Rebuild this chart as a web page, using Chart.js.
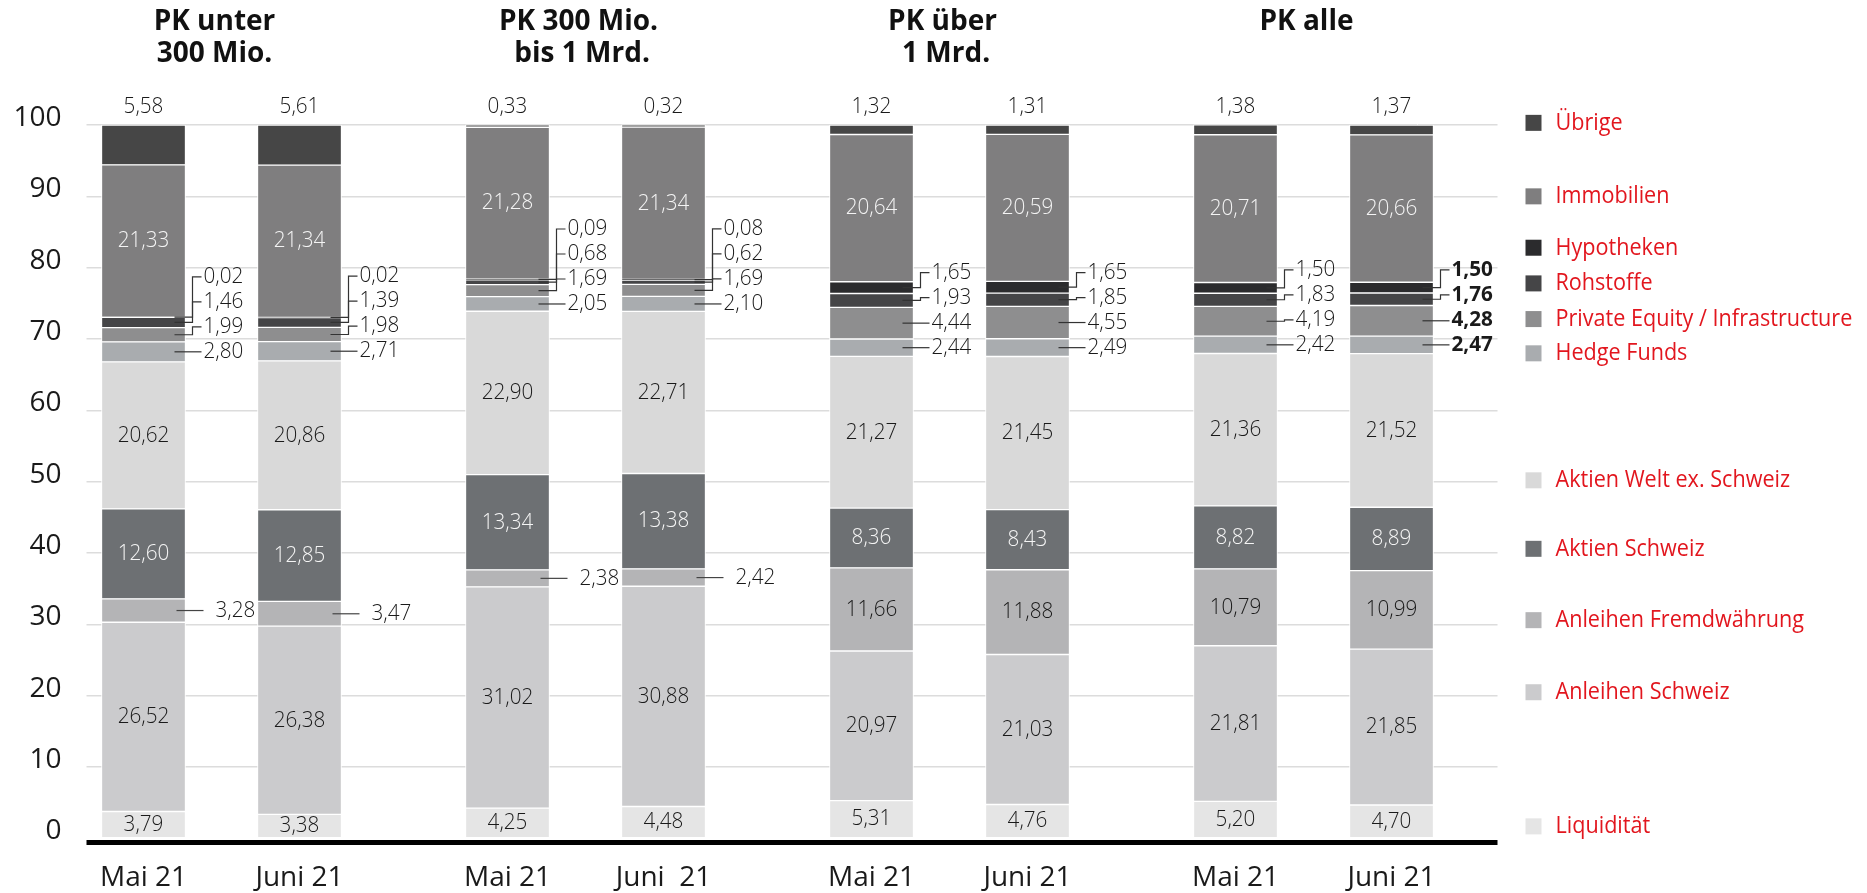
<!DOCTYPE html>
<html>
<head>
<meta charset="utf-8">
<script src="https://cdn.jsdelivr.net/npm/chart.js@4.4.0/dist/chart.umd.min.js"></script>
<style>
  html, body { margin: 0; padding: 0; background: #fff; }
  #wrap { width: 1867px; height: 893px; position: relative; }
</style>
</head>
<body>
<div id="wrap"><canvas id="chart"></canvas></div>
<script>
// Gruppen und Monate
const gruppen = ['PK unter\n300 Mio.', 'PK 300 Mio.\n bis 1 Mrd.', 'PK über\n 1 Mrd.', 'PK alle'];
const monate = [['Mai 21', 'Juni 21'], ['Mai 21', 'Juni  21'], ['Mai 21', 'Juni 21'], ['Mai 21', 'Juni 21']];

// Anteile in %, je Balken (Mai/Juni pro Gruppe)
const liquiditaet     = [3.79, 3.38, 4.25, 4.48, 5.31, 4.76, 5.20, 4.70];
const anleihenSchweiz = [26.52, 26.38, 31.02, 30.88, 20.97, 21.03, 21.81, 21.85];
const anleihenFW      = [3.28, 3.47, 2.38, 2.42, 11.66, 11.88, 10.79, 10.99];
const aktienSchweiz   = [12.60, 12.85, 13.34, 13.38, 8.36, 8.43, 8.82, 8.89];
const aktienWelt      = [20.62, 20.86, 22.90, 22.71, 21.27, 21.45, 21.36, 21.52];
const hedgeFunds      = [2.80, 2.71, 2.05, 2.10, 2.44, 2.49, 2.42, 2.47];
const privateEquity   = [1.99, 1.98, 1.69, 1.69, 4.44, 4.55, 4.19, 4.28];
const rohstoffe       = [1.46, 1.39, 0.68, 0.62, 1.93, 1.85, 1.83, 1.76];
const hypotheken      = [0.02, 0.02, 0.09, 0.08, 1.65, 1.65, 1.50, 1.50];
const immobilien      = [21.33, 21.34, 21.28, 21.34, 20.64, 20.59, 20.71, 20.66];
const uebrige         = [5.58, 5.61, 0.33, 0.32, 1.32, 1.31, 1.38, 1.37];

const yTicks = [0, 10, 20, 30, 40, 50, 60, 70, 80, 90, 100];

// Serien von unten nach oben; mode: wie das Label gesetzt wird
const serien = [
  { name: 'Liquidität', values: liquiditaet, color: '#e5e5e5', mode: 'inside', legendAt: 1.7 },
  { name: 'Anleihen Schweiz', values: anleihenSchweiz, color: '#cbcbcd', mode: 'inside', legendAt: 20.5 },
  { name: 'Anleihen Fremdwährung', values: anleihenFW, color: '#b4b4b6', mode: 'auto', legendAt: 30.6 },
  { name: 'Aktien Schweiz', values: aktienSchweiz, color: '#6d7073', mode: 'inside', white: true, legendAt: 40.6 },
  { name: 'Aktien Welt ex. Schweiz', values: aktienWelt, color: '#d9d9d9', mode: 'inside', legendAt: 50.2 },
  { name: 'Hedge Funds', values: hedgeFunds, color: '#a9acaf', mode: 'callout', legendAt: 68 },
  { name: 'Private Equity / Infrastructure', values: privateEquity, color: '#8e8e8f', mode: 'callout', legendAt: 72.8 },
  { name: 'Rohstoffe', values: rohstoffe, color: '#454547', mode: 'callout', legendAt: 77.8 },
  { name: 'Hypotheken', values: hypotheken, color: '#2b2b2d', mode: 'callout', legendAt: 82.8 },
  { name: 'Immobilien', values: immobilien, color: '#7f7e7f', mode: 'inside', white: true, legendAt: 90 },
  { name: 'Übrige', values: uebrige, color: '#464646', mode: 'top', legendAt: 100.3 }
];

// Kategorien mit Leerplätzen zwischen den Balken
const labels = [];
const slotIndex = [];
gruppen.forEach((g, gi) => {
  if (gi > 0) labels.push('', '', '');
  slotIndex.push(labels.length); labels.push(monate[gi][0]);
  labels.push('', '');
  slotIndex.push(labels.length); labels.push(monate[gi][1]);
});
const toSlots = (values) => {
  const arr = labels.map(() => null);
  values.forEach((v, i) => { arr[slotIndex[i]] = v; });
  return arr;
};

const fmt = (v) => v.toFixed(2).replace('.', ',');
const FONT = '"Open Sans", "Noto Sans", sans-serif';
const RED = '#e2161e';
const GRID = '#dcdcdc';
const VAL = { size: 22, squeeze: 0.94 };

function text(ctx, str, x, y, opt) {
  ctx.save();
  ctx.font = (opt.weight || '400') + ' ' + opt.size + 'px ' + FONT;
  ctx.fillStyle = opt.color || '#1a1a1a';
  ctx.textBaseline = 'middle';
  ctx.textAlign = opt.align || 'center';
  ctx.translate(x, y);
  ctx.scale(opt.squeeze || 1, 1);
  ctx.fillText(str, 0, 0);
  ctx.restore();
}

const dekor = {
  id: 'dekor',
  afterDatasetsDraw(chart) {
    const ctx = chart.ctx;
    const ys = chart.scales.y;
    const area = chart.chartArea;
    const last = liquiditaet.length - 1;

    // schwarze Grundlinie
    ctx.save();
    ctx.strokeStyle = '#000';
    ctx.lineWidth = 5;
    ctx.beginPath();
    ctx.moveTo(area.left - 31, ys.getPixelForValue(0) + 4);
    ctx.lineTo(area.right + 80, ys.getPixelForValue(0) + 4);
    ctx.stroke();
    ctx.restore();

    for (let i = 0; i < liquiditaet.length; i++) {
      const weight = i === last ? '700' : '300';
      const cluster = [];
      serien.forEach((s, d) => {
        const el = chart.getDatasetMeta(d).data[slotIndex[i]];
        const v = s.values[i];
        const mid = (el.y + el.base) / 2;
        const right = el.x + el.width / 2;
        const lbl = fmt(v);
        if (s.mode === 'top') {
          text(ctx, lbl, el.x, ys.getPixelForValue(100) - 18, { ...VAL, weight: '300' });
        } else if (s.mode === 'callout') {
          cluster.push({ mid, right, lbl });
        } else if (s.mode === 'auto' && v < 5) {
          ctx.save();
          ctx.strokeStyle = '#444';
          ctx.lineWidth = 1.2;
          ctx.beginPath();
          ctx.moveTo(right - 9, mid);
          ctx.lineTo(right + 18, mid);
          ctx.stroke();
          ctx.restore();
          text(ctx, lbl, right + 30, mid, { ...VAL, weight, align: 'left' });
        } else {
          text(ctx, lbl, el.x, mid, { ...VAL, weight: '300', color: s.white ? '#f4f4f4' : '#1a1a1a' });
        }
      });
      let prev = Infinity;
      cluster.forEach((c) => {
        c.ly = Math.min(c.mid, prev - 25);
        prev = c.ly;
        ctx.save();
        ctx.strokeStyle = '#333';
        ctx.lineWidth = 1.2;
        ctx.beginPath();
        ctx.moveTo(c.right - 11, c.mid);
        if (Math.abs(c.ly - c.mid) < 1) {
          ctx.lineTo(c.right + 16, c.mid);
        } else {
          ctx.lineTo(c.right + 7, c.mid);
          ctx.lineTo(c.right + 7, c.ly);
          ctx.lineTo(c.right + 16, c.ly);
        }
        ctx.stroke();
        ctx.restore();
        text(ctx, c.lbl, c.right + 18, c.ly, { ...VAL, weight, align: 'left' });
      });
    }
  },
  afterDraw(chart) {
    const ctx = chart.ctx;
    const ys = chart.scales.y;
    const meta = chart.getDatasetMeta(0).data;
    // Gruppentitel
    gruppen.forEach((g, gi) => {
      const cx = (meta[slotIndex[gi * 2]].x + meta[slotIndex[gi * 2 + 1]].x) / 2 - 7;
      g.split('\n').forEach((line, li) => {
        text(ctx, line, cx, 22 + li * 32, { size: 28, weight: '700', color: '#111' });
      });
    });
    // Legende rechts
    const lx = chart.chartArea.right + 108;
    serien.forEach((s) => {
      const y = ys.getPixelForValue(s.legendAt);
      ctx.fillStyle = s.color;
      ctx.fillRect(lx, y - 8, 16, 16);
      text(ctx, s.name, lx + 30, y, { size: 24, align: 'left', squeeze: 0.9, color: RED });
    });
  }
};

const ctx = document.getElementById('chart');
const myChart = new Chart(ctx, {
  type: 'bar',
  data: {
    labels: labels,
    datasets: serien.map((s) => ({
      label: s.name,
      data: toSlots(s.values),
      backgroundColor: s.color,
      borderColor: '#ffffff',
      borderWidth: 1,
      borderSkipped: false,
      barThickness: 84,
      clip: false
    }))
  },
  options: {
    responsive: true,
    maintainAspectRatio: false,
    devicePixelRatio: 1,
    animation: false,
    layout: { padding: { left: 0, right: 369.5, top: 125, bottom: 0 } },
    plugins: { legend: { display: false }, tooltip: { enabled: false } },
    scales: {
      x: {
        stacked: true,
        grid: { display: false, drawTicks: false },
        border: { display: false },
        ticks: {
          autoSkip: false, maxRotation: 0, padding: 23,
          color: '#1a1a1a', font: { family: FONT, size: 28 }
        },
        afterFit: (scale) => { scale.height = 54.5; }
      },
      y: {
        stacked: true,
        min: 0, max: 100,
        afterBuildTicks: (scale) => { scale.ticks = yTicks.map((v) => ({ value: v })); },
        grid: {
          color: (c) => (c.tick && c.tick.value === 0 ? 'rgba(0,0,0,0)' : GRID),
          lineWidth: 1.5, tickLength: 31
        },
        border: { display: false },
        ticks: { padding: 25, labelOffset: -7, color: '#1a1a1a', font: { family: FONT, size: 28 } },
        afterFit: (scale) => { scale.width = 117.5; }
      },
      y2: {
        position: 'right',
        min: 0, max: 100,
        afterBuildTicks: (scale) => { scale.ticks = yTicks.map((v) => ({ value: v })); },
        grid: {
          drawOnChartArea: false, tickLength: 80, lineWidth: 1.5,
          color: (c) => (c.tick && c.tick.value === 0 ? 'rgba(0,0,0,0)' : GRID)
        },
        border: { display: false },
        ticks: { display: false },
        afterFit: (scale) => { scale.width = 80; }
      }
    }
  },
  plugins: [dekor]
});
</script>
</body>
</html>
